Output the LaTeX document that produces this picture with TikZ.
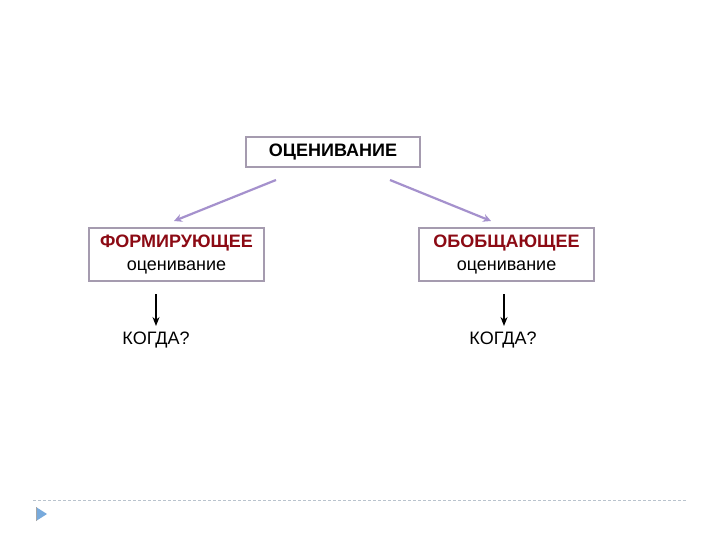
\documentclass[tikz,border=0pt]{standalone}
\usepackage{fontspec}
\setmainfont{Liberation Sans}
\usetikzlibrary{arrows.meta}
\definecolor{boxgray}{RGB}{165,155,175}
\definecolor{lav}{RGB}{165,145,205}
\definecolor{darkred}{RGB}{140,10,20}
\definecolor{dashc}{RGB}{185,195,205}
\definecolor{tri}{RGB}{120,170,220}
\begin{document}
\begin{tikzpicture}[x=1pt,y=-1pt,
  box/.style={draw=boxgray, line width=1.6pt, inner sep=0pt, font=\fontsize{18}{23}\selectfont},
  lavarrow/.style={draw=lav, line width=2.2pt, -{Stealth[length=8pt,width=8pt]}},
  blkarrow/.style={draw=black, line width=1.4pt, -{Stealth[length=9pt,width=7pt]}},
  lbl/.style={font=\fontsize{18}{22}\selectfont, inner sep=0pt}]
\useasboundingbox (0,0) rectangle (720,540);
\fill[white] (0,0) rectangle (720,540);
% top box
\node[box, minimum width=174pt, minimum height=30pt] (top) at (333,152)
  {\bfseries ОЦЕНИВАНИЕ};
% left box
\node[box, minimum width=175pt, minimum height=53pt, align=center] (left) at (176.5,254.5)
  {{\bfseries\color{darkred}ФОРМИРУЮЩЕЕ}\\оценивание};
% right box
\node[box, minimum width=175pt, minimum height=53pt, align=center] (right) at (506.5,254.5)
  {{\bfseries\color{darkred}ОБОБЩАЮЩЕЕ}\\оценивание};
% when labels
\node[lbl] (lwhen) at (156,340) {КОГДА?};
\node[lbl] (rwhen) at (503,340) {КОГДА?};
% lavender arrows
\coordinate (ls) at (276,180);
\coordinate (le) at (174,221);
\coordinate (rs) at (390,180);
\coordinate (re) at (491,221);
\draw[lavarrow] (ls) -- (le);
\draw[lavarrow] (rs) -- (re);
% black arrows
\coordinate (lbs) at (156,294);
\coordinate (lbe) at (156,326);
\coordinate (rbs) at (504,294);
\coordinate (rbe) at (504,326);
\draw[blkarrow] (lbs) -- (lbe);
\draw[blkarrow] (rbs) -- (rbe);
% footer
\draw[dashc, line width=1pt, dash pattern=on 3pt off 2pt] (33,500) -- (687,500);
\fill[tri] (36,507) -- (47,514) -- (36,521) -- cycle;
\draw[gray!70, line width=0.8pt] (36,507) -- (36,521);
\end{tikzpicture}
\end{document}
